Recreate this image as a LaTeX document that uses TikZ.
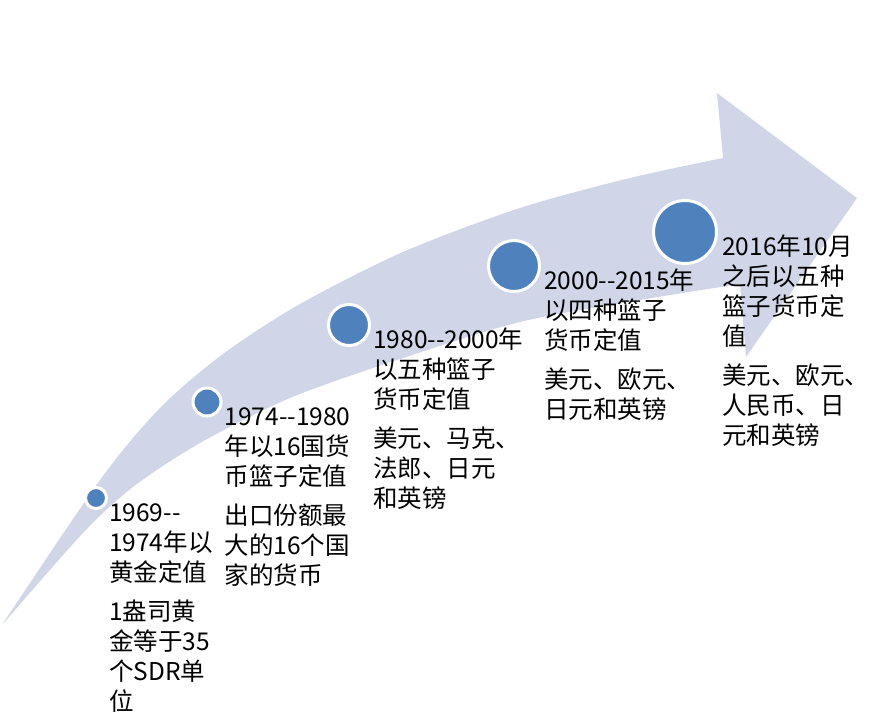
\documentclass[tikz,border=0pt]{standalone}
\usepackage{fontspec}
\newfontfamily\cjk{Noto Sans CJK SC}
\usetikzlibrary{positioning}
\definecolor{bandblue}{RGB}{208,214,232}
\definecolor{dotblue}{RGB}{79,129,189}

\begin{document}
\begin{tikzpicture}[x=1pt,y=-1pt,
  dot/.style={circle,fill=dotblue,draw=white,line width=3pt,inner sep=0pt},
  note/.style={anchor=north west,align=left,inner sep=0pt,font=\cjk\fontsize{24.5}{30}\selectfont}]
  \useasboundingbox (0,0) rectangle (890,717);
  % curved arrow band
  \fill[bandblue] plot[smooth] coordinates {(2,625) (100,480) (160,408) (223,354) (300,304) (403,252) (520,208) (630,178) (723,158)}
    -- (717,93) -- (857,198) -- (746,357)
    -- plot[smooth] coordinates {(740,284) (640,300) (520,322) (400,359) (290,398) (200,443) (133,487) (83,533) (2,625)} -- cycle;
  % milestones
  \node[dot,minimum size=21pt] (c1) at (96,498) {};
  \node[dot,minimum size=28pt] (c2) at (207,402) {};
  \node[dot,minimum size=41pt] (c3) at (349,325) {};
  \node[dot,minimum size=51pt] (c4) at (514,266) {};
  \node[dot,minimum size=63pt] (c5) at (685,232) {};
  % notes
  \node[note] (t1) at ([xshift=1pt,yshift=-2pt]c1.east) {\strut 1969-{}-\\1974年以\\黄金定值\\[9pt]1盎司黄\\金等于35\\个SDR单\\位};
  \node[note] (t2) at ([xshift=2pt,yshift=-2pt]c2.east) {\strut 1974-{}-1980\\年以16国货\\币篮子定值\\[9pt]出口份额最\\大的16个国\\家的货币};
  \node[note] (t3) at ([xshift=2pt,yshift=-2pt]c3.east) {\strut 1980-{}-2000年\\以五种篮子\\货币定值\\[9pt]美元、马克、\\法郎、日元\\和英镑};
  \node[note] (t4) at ([xshift=3pt,yshift=-2pt]c4.east) {\strut 2000-{}-2015年\\以四种篮子\\货币定值\\[9pt]美元、欧元、\\日元和英镑};
  \node[note] (t5) at ([xshift=4pt,yshift=-2pt]c5.east) {\strut 2016年10月\\之后以五种\\篮子货币定\\值\\[9pt]美元、欧元、\\人民币、日\\元和英镑};
\end{tikzpicture}
\end{document}
